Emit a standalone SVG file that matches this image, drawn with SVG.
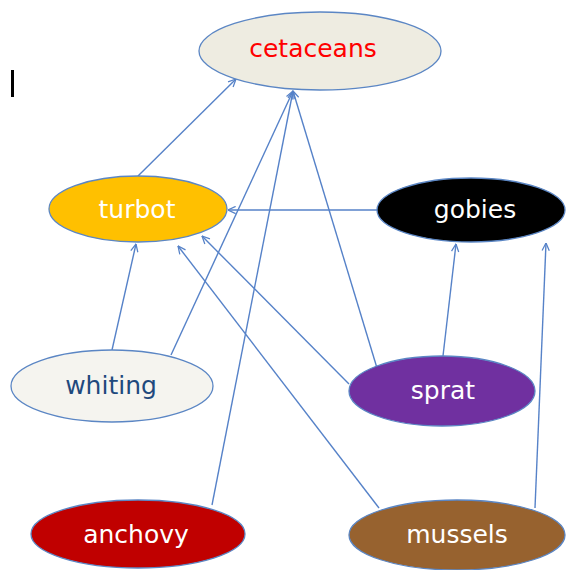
<svg xmlns="http://www.w3.org/2000/svg" width="568" height="570" viewBox="0 0 568 570">
  <defs>
    <marker id="arrow" viewBox="0 0 10 10" refX="9.5" refY="5" markerWidth="9" markerHeight="9" markerUnits="userSpaceOnUse" orient="auto">
      <polyline points="1,1 9.5,5 1,9" fill="none" stroke="#5682c8" stroke-width="1.4"/>
    </marker>
  </defs>
  <style>
    .node ellipse { stroke: #5b86c4; stroke-width: 1.3; }
    .node text { font-family: "DejaVu Sans", Verdana, sans-serif; font-size: 25px; text-anchor: middle; fill: #ffffff; }
    #connectors line { stroke: #5682c8; stroke-width: 1.4; fill: none; marker-end: url(#arrow); }
  </style>
  <rect width="568" height="570" fill="#ffffff"/>

  <!-- text cursor bar -->
  <rect x="11" y="70" width="3" height="27" fill="#000000"/>

  <g id="connectors">
    <line x1="138" y1="176" x2="236" y2="79"/>
    <line x1="171" y1="355" x2="293" y2="91"/>
    <line x1="212" y1="505" x2="293" y2="91"/>
    <line x1="377" y1="368" x2="293" y2="91"/>
    <line x1="377" y1="210" x2="228" y2="210"/>
    <line x1="112" y1="350" x2="136" y2="244"/>
    <line x1="349" y1="384" x2="202" y2="236"/>
    <line x1="379" y1="508" x2="178" y2="246"/>
    <line x1="443" y1="356" x2="456" y2="244"/>
    <line x1="535" y1="508" x2="546" y2="243"/>
  </g>

  <g id="cetaceans" class="node">
    <ellipse cx="320" cy="51" rx="121" ry="39" fill="#eeece1"/>
    <text x="313" y="57" style="fill:#ff0000">cetaceans</text>
  </g>
  <g id="turbot" class="node">
    <ellipse cx="138" cy="209" rx="89" ry="33" fill="#ffc000"/>
    <text x="137" y="218">turbot</text>
  </g>
  <g id="gobies" class="node">
    <ellipse cx="471" cy="210" rx="94" ry="32" fill="#000000"/>
    <text x="475" y="218">gobies</text>
  </g>
  <g id="whiting" class="node">
    <ellipse cx="112" cy="386" rx="101" ry="36" fill="#f5f4ef"/>
    <text x="111" y="394" style="fill:#1f497d">whiting</text>
  </g>
  <g id="sprat" class="node">
    <ellipse cx="442" cy="391" rx="93" ry="35" fill="#7030a0"/>
    <text x="443" y="399">sprat</text>
  </g>
  <g id="anchovy" class="node">
    <ellipse cx="138" cy="534" rx="107" ry="34" fill="#c00000"/>
    <text x="136" y="543">anchovy</text>
  </g>
  <g id="mussels" class="node">
    <ellipse cx="457" cy="535" rx="108" ry="35" fill="#97622f"/>
    <text x="457" y="543">mussels</text>
  </g>
</svg>
